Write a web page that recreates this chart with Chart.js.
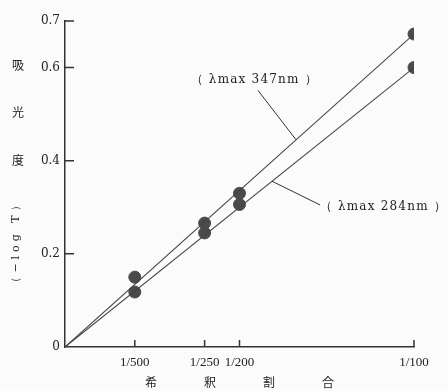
<!DOCTYPE html>
<html lang="ja">
<head>
<meta charset="UTF-8">
<title>吸光度と希釈割合</title>
<script src="https://cdn.jsdelivr.net/npm/chart.js"></script>
<style>
  html, body { margin: 0; padding: 0; background: #fbfbfb; }
  #wrap { width: 448px; height: 391px; }
</style>
</head>
<body>
<div id="wrap"><canvas id="chart"></canvas></div>
<script>
  // dilution in units of 1/1000 (1/500 -> 2, 1/100 -> 10)
  const dilution = [2, 4, 5, 10];
  const dilutionLabels = ['1/500', '1/250', '1/200', '1/100'];
  const abs347 = [0.150, 0.266, 0.330, 0.672];
  const abs284 = [0.118, 0.245, 0.306, 0.600];
  // calibration lines through the origin
  const fitX = [0, 10];
  const fit347 = [0, 0.672];
  const fit284 = [0, 0.600];
  const yTicks = [0, 0.2, 0.4, 0.6, 0.7];

  const ink = '#333';
  const serif = "'DejaVu Serif', serif";
  const narrowSerif = "'Liberation Serif', serif";
  const cjk = "'Noto Sans CJK JP', sans-serif";

  // leader labels, in data units
  const notes = [
    { text: '（ λmax 347nm ）', pos: [3.6, 0.573], line: [[5.53, 0.551], [6.62, 0.445]] },
    { text: '（ λmax 284nm ）', pos: [7.3, 0.300], line: [[5.93, 0.356], [7.31, 0.305]] }
  ];

  const toPts = (xs, ys) => xs.map((x, i) => ({ x: x, y: ys[i] }));

  const decor = {
    id: 'decor',
    afterDraw(chart) {
      const ctx = chart.ctx;
      const xs = chart.scales.x, ys = chart.scales.y;
      const a = chart.chartArea;
      ctx.save();
      ctx.strokeStyle = ink;
      ctx.lineWidth = 1.5;
      // inward tick marks
      ctx.beginPath();
      yTicks.forEach(v => {
        if (v === 0) return;
        const py = ys.getPixelForValue(v);
        ctx.moveTo(a.left, py);
        ctx.lineTo(a.left + 9, py);
      });
      dilution.forEach(v => {
        const px = xs.getPixelForValue(v);
        ctx.moveTo(px, a.bottom);
        ctx.lineTo(px, a.bottom - 7);
      });
      ctx.stroke();

      // leader lines and labels
      ctx.lineWidth = 1;
      ctx.fillStyle = '#222';
      ctx.font = '12px ' + serif;
      ctx.textBaseline = 'middle';
      ctx.textAlign = 'left';
      ctx.letterSpacing = '1.2px';
      notes.forEach(n => {
        ctx.beginPath();
        ctx.moveTo(xs.getPixelForValue(n.line[0][0]), ys.getPixelForValue(n.line[0][1]));
        ctx.lineTo(xs.getPixelForValue(n.line[1][0]), ys.getPixelForValue(n.line[1][1]));
        ctx.stroke();
        ctx.fillText(n.text, xs.getPixelForValue(n.pos[0]), ys.getPixelForValue(n.pos[1]));
      });

      // x axis title, spread out
      ctx.letterSpacing = '0px';
      ctx.font = '12px ' + cjk;
      ctx.textAlign = 'center';
      const cx = (a.left + a.right) / 2;
      ['希', '釈', '割', '合'].forEach((c, i) => {
        ctx.fillText(c, cx + (i - 1.5) * 59, 382);
      });

      // y axis title: stacked kanji then rotated (−log T)
      ['吸', '光', '度'].forEach((c, i) => {
        ctx.fillText(c, 18, 65 + i * 47.5);
      });
      ctx.translate(16, 242);
      ctx.rotate(-Math.PI / 2);
      ctx.font = '11px ' + serif;
      ctx.letterSpacing = '4px';
      ctx.fillText('（−log T）', 0, 0);
      ctx.restore();
    }
  };

  new Chart(document.getElementById('chart'), {
    type: 'scatter',
    data: {
      datasets: [
        {
          data: toPts(fitX, fit347),
          showLine: true, pointRadius: 0,
          borderColor: '#444', borderWidth: 1.1
        },
        {
          data: toPts(fitX, fit284),
          showLine: true, pointRadius: 0,
          borderColor: '#444', borderWidth: 1.1
        },
        {
          data: toPts(dilution, abs347),
          pointRadius: 6, backgroundColor: '#4a4a4a', borderColor: '#4a4a4a'
        },
        {
          data: toPts(dilution, abs284),
          pointRadius: 6, backgroundColor: '#4a4a4a', borderColor: '#4a4a4a'
        }
      ]
    },
    options: {
      responsive: true,
      maintainAspectRatio: false,
      animation: false,
      layout: { padding: { left: 0, top: 21, right: 34, bottom: 0 } },
      plugins: {
        legend: { display: false },
        tooltip: { enabled: false }
      },
      scales: {
        x: {
          type: 'linear',
          min: 0,
          max: 10,
          afterBuildTicks: s => { s.ticks = dilution.map(v => ({ value: v })); },
          afterFit: s => { s.height = 44; },
          grid: { drawOnChartArea: false, drawTicks: false },
          border: { color: ink, width: 1.5 },
          ticks: {
            padding: 8,
            color: '#222',
            font: { family: narrowSerif, size: 13 },
            callback: v => dilutionLabels[dilution.indexOf(v)]
          }
        },
        y: {
          min: 0,
          max: 0.7,
          afterBuildTicks: s => { s.ticks = yTicks.map(v => ({ value: v })); },
          afterFit: s => { s.width = 65; },
          grid: { drawOnChartArea: false, drawTicks: false },
          border: { color: ink, width: 1.5 },
          ticks: {
            padding: 5,
            color: '#222',
            font: { family: serif, size: 12 },
            callback: v => v === 0 ? '0' : v.toFixed(1)
          }
        }
      }
    },
    plugins: [decor]
  });
</script>
</body>
</html>
